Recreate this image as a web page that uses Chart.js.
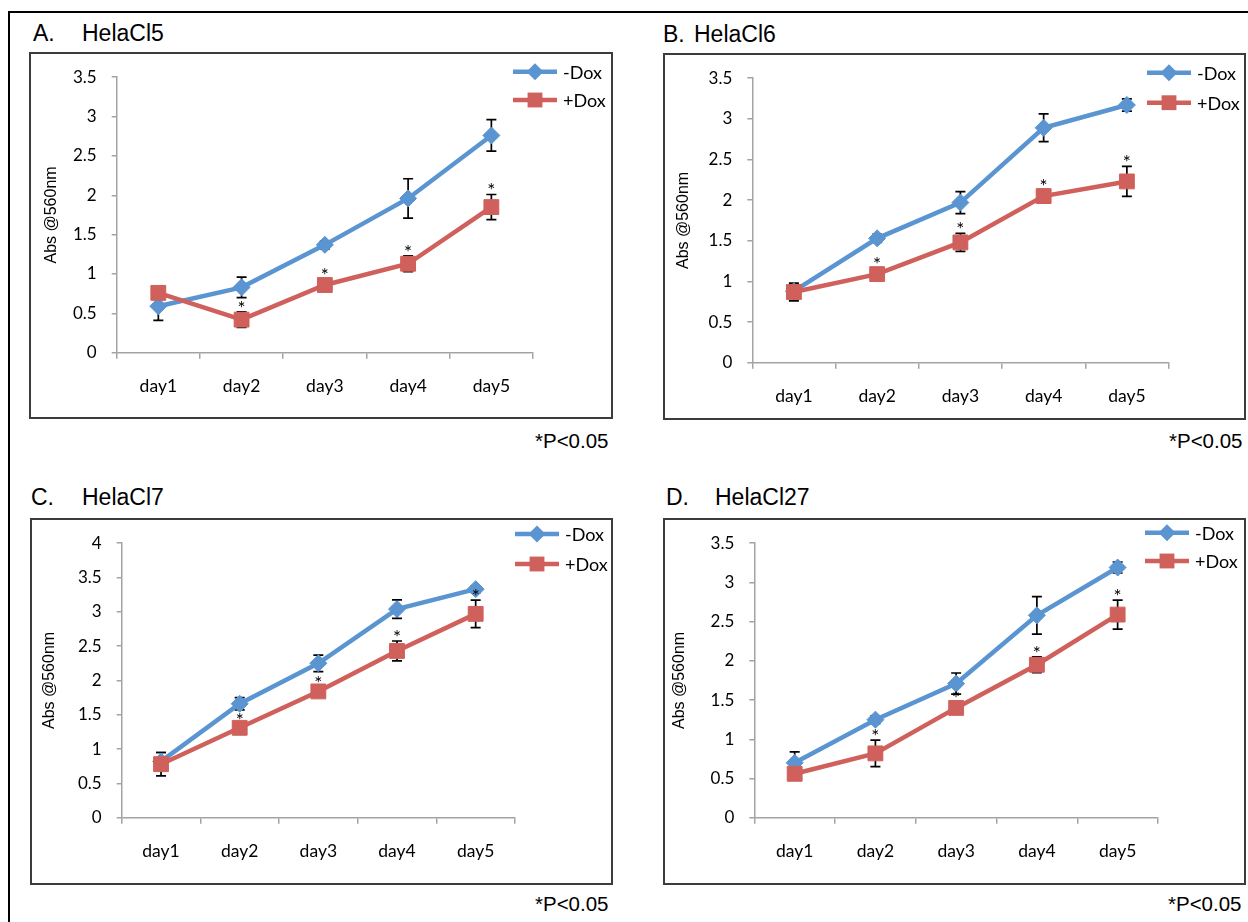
<!DOCTYPE html>
<html>
<head>
<meta charset="utf-8">
<script src="https://cdn.jsdelivr.net/npm/chart.js@4.4.1/dist/chart.umd.min.js"></script>
<style>
  body { margin: 0; background: #fff; width: 1248px; height: 922px; overflow: hidden; position: relative;
         font-family: "Liberation Sans", Arial, sans-serif; color: #000; }
  .frame { position: absolute; left: 8px; top: 11px; width: 1300px; height: 1000px;
           border-top: 2px solid #000; border-left: 2px solid #000; }
  .box { position: absolute; border: 2px solid #3c3c3c; box-sizing: border-box; pointer-events: none; }
  canvas { position: absolute; }
  .title { position: absolute; font-size: 23px; line-height: 23px; white-space: pre; }
  .note { position: absolute; font-size: 20.5px; line-height: 20.5px; white-space: pre; }
</style>
</head>
<body>
<div class="frame"></div>

<span class="title" style="left:33px;top:22px">A.</span>
<span class="title" style="left:82px;top:22px">HelaCl5</span>
<span class="title" style="left:663px;top:23px">B.</span>
<span class="title" style="left:694px;top:23px">HelaCl6</span>
<span class="title" style="left:31px;top:486px">C.</span>
<span class="title" style="left:82px;top:486px">HelaCl7</span>
<span class="title" style="left:666px;top:486px">D.</span>
<span class="title" style="left:715px;top:486px">HelaCl27</span>

<canvas id="chartA" width="584" height="367" style="left:29px;top:52px"></canvas>
<canvas id="chartB" width="583" height="367" style="left:663px;top:53px"></canvas>
<canvas id="chartC" width="583" height="367" style="left:30px;top:518px"></canvas>
<canvas id="chartD" width="583" height="367" style="left:663px;top:518px"></canvas>

<div class="box" style="left:29px;top:52px;width:584px;height:367px"></div>
<div class="box" style="left:663px;top:53px;width:583px;height:367px"></div>
<div class="box" style="left:30px;top:518px;width:583px;height:367px"></div>
<div class="box" style="left:663px;top:518px;width:583px;height:367px"></div>

<span class="note" style="left:535px;top:431px">*P&lt;0.05</span>
<span class="note" style="left:1169px;top:431px">*P&lt;0.05</span>
<span class="note" style="left:535px;top:894px">*P&lt;0.05</span>
<span class="note" style="left:1168px;top:894px">*P&lt;0.05</span>

<script>
const days = ["day1", "day2", "day3", "day4", "day5"];
const seriesLabels = ["-Dox", "+Dox"];

// A. HelaCl5
const aMinus = [0.59, 0.83, 1.37, 1.96, 2.76];
const aMinusErr = [0.18, 0.13, 0.05, 0.25, 0.2];
const aPlus = [0.76, 0.42, 0.86, 1.13, 1.85];
const aPlusErr = [0.05, 0.1, 0.07, 0.1, 0.16];
const aSig = [false, true, true, true, true];

// B. HelaCl6
const bMinus = [0.88, 1.53, 1.97, 2.89, 3.17];
const bMinusErr = [0.08, 0.05, 0.135, 0.17, 0.075];
const bPlus = [0.87, 1.09, 1.48, 2.05, 2.23];
const bPlusErr = [0.11, 0.07, 0.11, 0.08, 0.185];
const bSig = [false, true, true, true, true];

// C. HelaCl7
const cMinus = [0.82, 1.66, 2.25, 3.04, 3.33];
const cMinusErr = [0.13, 0.09, 0.12, 0.135, 0.05];
const cPlus = [0.78, 1.31, 1.84, 2.43, 2.97];
const cPlusErr = [0.17, 0.06, 0.06, 0.145, 0.2];
const cSig = [false, true, true, true, true];

// D. HelaCl27
const dMinus = [0.7, 1.25, 1.71, 2.58, 3.19];
const dMinusErr = [0.14, 0.05, 0.135, 0.24, 0.07];
const dPlus = [0.56, 0.82, 1.4, 1.95, 2.59];
const dPlusErr = [0.05, 0.17, 0.08, 0.1, 0.185];
const dSig = [false, true, true, true, true];

const yMaxA = 3.5, yMaxB = 3.5, yMaxC = 4, yMaxD = 3.5;

const BLUE = "#5a95d2";
const RED = "#d0605b";
const AXIS = "#a3a3a3";

Chart.defaults.font.family = "Lato, 'Open Sans', sans-serif";
Chart.defaults.color = "#000";

// error bars under the markers
const errorBarPlugin = {
  id: "errorBars",
  beforeDatasetsDraw(chart) {
    const ctx = chart.ctx;
    const y = chart.scales.y;
    ctx.save();
    ctx.strokeStyle = "#000";
    ctx.lineWidth = 1.7;
    chart.data.datasets.forEach((ds, di) => {
      const meta = chart.getDatasetMeta(di);
      ds.data.forEach((v, i) => {
        const e = ds.errors[i];
        const px = meta.data[i].x;
        const top = y.getPixelForValue(v + e);
        const bot = y.getPixelForValue(v - e);
        ctx.beginPath();
        ctx.moveTo(px, top); ctx.lineTo(px, bot);
        ctx.moveTo(px - 5, top); ctx.lineTo(px + 5, top);
        ctx.moveTo(px - 5, bot); ctx.lineTo(px + 5, bot);
        ctx.stroke();
      });
    });
    ctx.restore();
  },
};

// "*" above the +Dox error bar where the difference is significant
const asteriskPlugin = {
  id: "asterisks",
  afterDatasetsDraw(chart) {
    const ctx = chart.ctx;
    const y = chart.scales.y;
    const ds = chart.data.datasets[1];
    const meta = chart.getDatasetMeta(1);
    const sig = chart.options.plugins.asterisks.sig;
    ctx.save();
    ctx.fillStyle = "#000";
    ctx.font = "19px Lato";
    ctx.textAlign = "center";
    ctx.textBaseline = "alphabetic";
    sig.forEach((s, i) => {
      if (!s) return;
      const cy = y.getPixelForValue(ds.data[i] + ds.errors[i]) - 8;
      ctx.fillText("*", meta.data[i].x, cy + 11);
    });
    ctx.restore();
  },
};

function drawMarker(ctx, style, r, x, y) {
  ctx.beginPath();
  if (style === "rectRot") {
    ctx.moveTo(x, y - r); ctx.lineTo(x + r, y); ctx.lineTo(x, y + r); ctx.lineTo(x - r, y);
  } else {
    const h = r * Math.SQRT1_2;
    ctx.rect(x - h, y - h, 2 * h, 2 * h);
  }
  ctx.closePath();
  ctx.fill();
}

const legendPlugin = {
  id: "sideLegend",
  afterDraw(chart) {
    const { x, y, dy } = chart.options.plugins.sideLegend;
    const ctx = chart.ctx;
    ctx.save();
    chart.data.datasets.forEach((ds, i) => {
      const ly = y + i * dy;
      ctx.strokeStyle = ds.borderColor;
      ctx.lineWidth = 4.5;
      ctx.beginPath();
      ctx.moveTo(x, ly); ctx.lineTo(x + 44, ly);
      ctx.stroke();
      ctx.fillStyle = ds.borderColor;
      drawMarker(ctx, ds.pointStyle, ds.pointRadius, x + 22, ly);
      ctx.fillStyle = "#000";
      ctx.font = "18px Lato";
      ctx.textBaseline = "middle";
      ctx.fillText(ds.label, x + 50, ly + 1);
    });
    ctx.restore();
  },
};

function makePanel(id, minus, minusErr, plus, plusErr, sig, yMax, layout) {
  const canvas = document.getElementById(id);
  return new Chart(canvas, {
    type: "line",
    data: {
      labels: days,
      datasets: [
        {
          label: seriesLabels[0],
          data: minus,
          errors: minusErr,
          borderColor: BLUE,
          backgroundColor: BLUE,
          borderWidth: 4.5,
          pointStyle: "rectRot",
          pointRadius: 8.5,
          pointBackgroundColor: BLUE,
          pointBorderColor: BLUE,
          pointBorderWidth: 1,
          tension: 0,
          order: 2,
        },
        {
          label: seriesLabels[1],
          data: plus,
          errors: plusErr,
          borderColor: RED,
          backgroundColor: RED,
          borderWidth: 4.5,
          pointStyle: "rect",
          pointRadius: 10.5,
          pointBackgroundColor: RED,
          pointBorderColor: RED,
          pointBorderWidth: 1,
          tension: 0,
          order: 1,
        },
      ],
    },
    options: {
      responsive: false,
      devicePixelRatio: 1,
      animation: false,
      events: [],
      layout: {
        padding: { left: 4, top: layout.top, right: layout.right, bottom: 0 },
      },
      plugins: {
        legend: { display: false },
        tooltip: { enabled: false },
        asterisks: { sig },
        sideLegend: layout.legend,
      },
      scales: {
        x: {
          type: "category",
          offset: true,
          grid: { offset: true, drawOnChartArea: false, tickLength: 6, color: AXIS, lineWidth: 1.5 },
          border: { color: AXIS, width: 1.5 },
          ticks: { font: { size: 17.5 }, color: "#000", padding: 17 },
          afterFit(scale) { scale.height = layout.xHeight; },
        },
        y: {
          min: 0,
          max: yMax,
          grid: { drawOnChartArea: false, tickLength: 5, color: AXIS, lineWidth: 1.5 },
          border: { color: AXIS, width: 1.5 },
          ticks: { stepSize: 0.5, font: { size: 17 }, color: "#000", padding: 15, callback: (v) => String(v) },
          title: {
            display: true,
            text: "Abs @560nm",
            font: { family: "'Liberation Sans', Arial, sans-serif", size: 16 },
            color: "#000",
            padding: { top: layout.titlePad, bottom: 0 },
          },
          afterFit(scale) { scale.width = layout.yWidth; },
        },
      },
    },
    plugins: [errorBarPlugin, asteriskPlugin, legendPlugin],
  });
}

makePanel("chartA", aMinus, aMinusErr, aPlus, aPlusErr, aSig, yMaxA,
  { top: 23.7, right: 80, xHeight: 66.3, yWidth: 83.7, titlePad: 9, legend: { x: 484, y: 19.7, dy: 28.3 } });
makePanel("chartB", bMinus, bMinusErr, bPlus, bPlusErr, bSig, yMaxB,
  { top: 22.7, right: 77.5, xHeight: 57.3, yWidth: 85.3, titlePad: 7, legend: { x: 484, y: 19.7, dy: 30 } });
makePanel("chartC", cMinus, cMinusErr, cPlus, cPlusErr, cSig, yMaxC,
  { top: 22, right: 98, xHeight: 67.3, yWidth: 87.7, titlePad: 6, legend: { x: 485, y: 16, dy: 30 } });
makePanel("chartD", dMinus, dMinusErr, dPlus, dPlusErr, dSig, yMaxD,
  { top: 22, right: 88, xHeight: 67.3, yWidth: 87.3, titlePad: 3, legend: { x: 482, y: 14.7, dy: 28.3 } });
</script>
</body>
</html>
